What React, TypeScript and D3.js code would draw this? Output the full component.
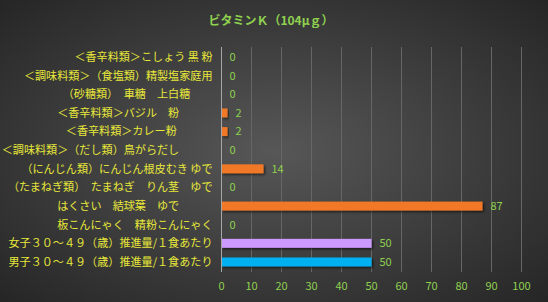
import * as d3 from 'd3';
import React, { useEffect, useRef } from 'react';

// trailing ideographic spaces are part of the source labels
const categories = [
  '＜香辛料類＞こしょう 黒 粉',
  '＜調味料類＞（食塩類）精製塩家庭用',
  '（砂糖類）　車糖　上白糖　　',
  '＜香辛料類＞バジル　粉　　　',
  '＜香辛料類＞カレー粉　　　 ',
  '＜調味料類＞（だし類）鳥がらだし　　　',
  '（にんじん類）にんじん根皮むき ゆで',
  '（たまねぎ類）　たまねぎ　りん茎　ゆで',
  'はくさい　結球葉　ゆで　　　',
  '板こんにゃく　精粉こんにゃく',
  '女子３０～４９（歳）推進量/１食あたり',
  '男子３０～４９（歳）推進量/１食あたり',
];
const values = [0, 0, 0, 2, 2, 0, 14, 0, 87, 0, 50, 50];
const barColors = [
  '#f07828', '#f07828', '#f07828', '#f07828', '#f07828', '#f07828',
  '#f07828', '#f07828', '#f07828', '#f07828', '#cc99ff', '#00b0f0',
];
const xTicks = [0, 10, 20, 30, 40, 50, 60, 70, 80, 90, 100];
const title = 'ビタミンＫ（104μｇ）';

const W = 548;
const H = 302;
const FONT = '"Noto Sans CJK JP", sans-serif';

const App: React.FC = () => {
  const ref = useRef<SVGSVGElement | null>(null);

  useEffect(() => {
    if (!ref.current) return;
    const svg = d3.select(ref.current);
    svg.selectAll('*').remove();

    const margin = { top: 47, right: 26.5, bottom: 30, left: 221.5 };
    const plotW = W - margin.left - margin.right;
    const plotH = H - margin.top - margin.bottom;

    // background
    const defs = svg.append('defs');
    const grad = defs
      .append('radialGradient')
      .attr('id', 'bg')
      .attr('cx', '50%')
      .attr('cy', '50%')
      .attr('r', '70%');
    grad.append('stop').attr('offset', '0%').attr('stop-color', '#575757');
    grad.append('stop').attr('offset', '100%').attr('stop-color', '#262626');

    const shadow = defs.append('filter').attr('id', 'shadow').attr('x', '-10%').attr('y', '-50%').attr('width', '130%').attr('height', '250%');
    shadow.append('feDropShadow').attr('dx', 1.5).attr('dy', 1.5).attr('stdDeviation', 1).attr('flood-color', '#000').attr('flood-opacity', 0.6);

    svg.append('rect').attr('width', W).attr('height', H).attr('fill', 'url(#bg)');

    svg
      .append('text')
      .attr('x', 271)
      .attr('y', 25)
      .attr('text-anchor', 'middle')
      .style('font-family', FONT)
      .style('font-size', '12px')
      .style('font-weight', 'bold')
      .style('fill', '#8fd14f')
      .text(title);

    const x = d3.scaleLinear().domain([0, 100]).range([0, plotW]);
    const y = d3.scaleBand().domain(categories).range([0, plotH]).paddingInner(0.52).paddingOuter(0.3);

    const g = svg.append('g').attr('transform', `translate(${margin.left},${margin.top})`);

    // gridlines
    g.selectAll('line.grid')
      .data(xTicks.slice(1))
      .enter()
      .append('line')
      .attr('x1', (d) => x(d))
      .attr('x2', (d) => x(d))
      .attr('y1', 0)
      .attr('y2', plotH)
      .attr('stroke', '#666')
      .attr('stroke-width', 1);

    // bars
    g.selectAll('rect.bar')
      .data(values)
      .enter()
      .append('rect')
      .attr('x', 0)
      .attr('y', (_, i) => y(categories[i]) ?? 0)
      .attr('width', (d) => x(d))
      .attr('height', y.bandwidth())
      .attr('fill', (_, i) => barColors[i])
      .attr('filter', 'url(#shadow)');

    // axis line
    g.append('line')
      .attr('x1', 0)
      .attr('x2', 0)
      .attr('y1', 0)
      .attr('y2', plotH)
      .attr('stroke', '#a6a6a6')
      .attr('stroke-width', 1);

    // value labels
    g.selectAll('text.val')
      .data(values)
      .enter()
      .append('text')
      .attr('x', (d) => x(d) + 8)
      .attr('y', (_, i) => (y(categories[i]) ?? 0) + y.bandwidth() / 2)
      .attr('dy', '0.35em')
      .style('font-family', FONT)
      .style('font-size', '11px')
      .style('fill', '#8fd14f')
      .text((d) => d);

    // category labels
    g.selectAll('text.cat')
      .data(categories)
      .enter()
      .append('text')
      .attr('x', -9)
      .attr('y', (d) => (y(d) ?? 0) + y.bandwidth() / 2)
      .attr('dy', '0.35em')
      .attr('text-anchor', 'end')
      .style('font-family', FONT)
      .style('font-size', '11.1px')
      .style('white-space', 'pre')
      .style('fill', '#e8e83a')
      .text((d) => d);

    // x tick labels
    g.selectAll('text.tick')
      .data(xTicks)
      .enter()
      .append('text')
      .attr('x', (d) => x(d))
      .attr('y', plotH + 14)
      .attr('dy', '0.35em')
      .attr('text-anchor', 'middle')
      .style('font-family', FONT)
      .style('font-size', '11px')
      .style('fill', '#8fd14f')
      .text((d) => d);
  }, []);

  return (
    <div style={{ position: 'absolute', left: 0, top: 0 }}>
      <svg ref={ref} width={W} height={H} style={{ display: 'block' }} />
    </div>
  );
};

export default App;
